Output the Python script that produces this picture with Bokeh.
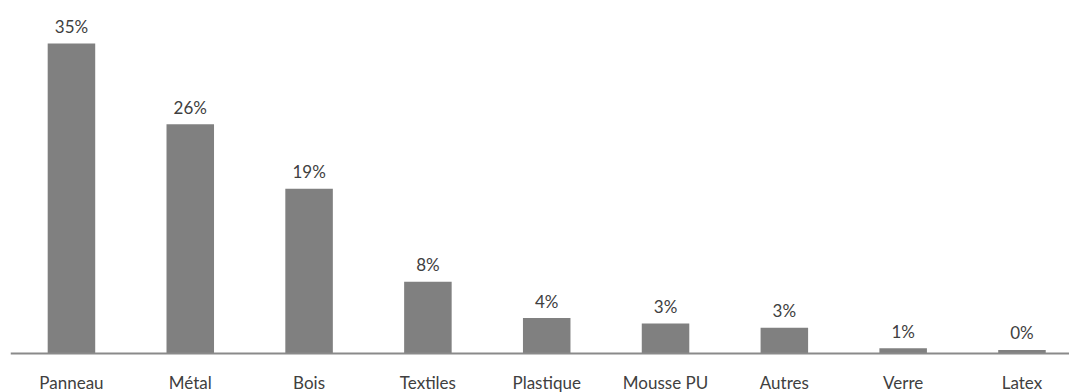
from bokeh.plotting import figure
from bokeh.models import ColumnDataSource, Range1d, Span
from bokeh.core.properties import value
from bokeh.embed import file_html
from bokeh.resources import INLINE

# Share of each material (%)
categories = ["Panneau", "Métal", "Bois", "Textiles", "Plastique",
              "Mousse PU", "Autres", "Verre", "Latex"]
shares = [35.0, 25.9, 18.6, 8.1, 4.0, 3.4, 2.9, 0.6, 0.4]
labels = [f"{round(v):.0f}%" for v in shares]

xs = list(range(len(categories)))
src = ColumnDataSource(dict(x=xs, top=shares, label=labels,
                            cat=categories, zero=[0] * len(xs)))

FONT = "Lato"
TEXT_COLOR = "#404040"
FONT_SIZE = "17px"

p = figure(width=1069, height=392, output_backend="svg", toolbar_location=None,
           x_range=Range1d(-0.513, 8.40), y_range=Range1d(-4.40, 39.86),
           min_border_left=10, min_border_right=0, min_border_top=0,
           min_border_bottom=0)

p.vbar(x="x", top="top", bottom=0, width=0.4, source=src,
       fill_color="#808080", line_color=None)

# baseline
p.add_layout(Span(location=0, dimension="width", line_color="#8a8a8a",
                  line_width=2))

# value labels above the bars
p.text(x="x", y="top", text="label", source=src,
       text_align="center", text_baseline="alphabetic", y_offset=-17,
       text_font=value(FONT), text_font_size=FONT_SIZE, text_color=TEXT_COLOR)

# category names under the baseline
p.text(x="x", y="zero", text="cat", source=src,
       text_align="center", text_baseline="alphabetic", y_offset=29,
       text_font=value(FONT), text_font_size=FONT_SIZE, text_color=TEXT_COLOR)

p.xaxis.visible = False
p.yaxis.visible = False
p.grid.visible = False
p.outline_line_color = None
p.background_fill_color = "white"
p.border_fill_color = "white"

open("out.html", "w").write(file_html(p, INLINE))
